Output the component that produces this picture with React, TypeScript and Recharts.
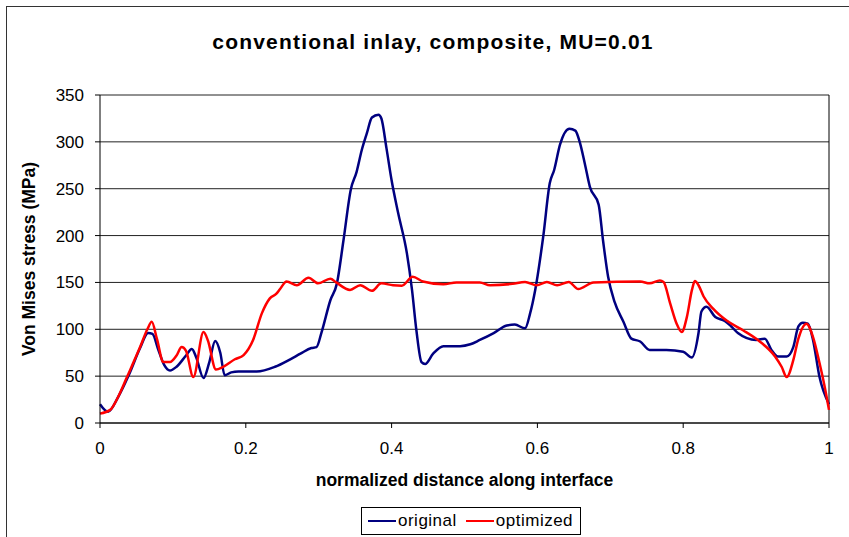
import React from "react";
import { LineChart, Line, XAxis, YAxis, CartesianGrid, ReferenceLine } from "recharts";

const title = "conventional inlay, composite, MU=0.01";
const xLabel = "normalized distance along interface";
const yLabel = "Von Mises stress (MPa)";
const xTicks = [0, 0.2, 0.4, 0.6, 0.8, 1];
const yTicks = [0, 50, 100, 150, 200, 250, 300, 350];

const originalX = [
  0, 0.011, 0.025, 0.04, 0.055, 0.066, 0.072, 0.08, 0.088, 0.096, 0.105, 0.118, 0.126, 0.132,
  0.142, 0.15, 0.158, 0.165, 0.171, 0.18, 0.19, 0.215, 0.24, 0.261, 0.275, 0.29, 0.297, 0.304,
  0.316, 0.325, 0.334, 0.344, 0.352, 0.359, 0.366, 0.373, 0.382, 0.386, 0.393, 0.4, 0.409,
  0.421, 0.428, 0.434, 0.441, 0.446, 0.457, 0.471, 0.494, 0.508, 0.521, 0.54, 0.558, 0.569,
  0.583, 0.59, 0.597, 0.608, 0.617, 0.623, 0.631, 0.644, 0.652, 0.658, 0.665, 0.672, 0.684,
  0.69, 0.697, 0.706, 0.718, 0.729, 0.741, 0.754, 0.777, 0.8, 0.812, 0.821, 0.825, 0.832,
  0.844, 0.857, 0.866, 0.875, 0.9, 0.912, 0.921, 0.93, 0.942, 0.951, 0.958, 0.964, 0.971,
  0.978, 0.987, 1.0,
];
const originalY = [
  20, 12, 28, 52, 80, 96, 95, 78, 62, 56, 60, 72, 79, 70,
  48, 65, 87.5, 75, 51, 54, 55, 55, 60, 68, 74, 80, 81, 97,
  131, 149, 195, 249, 268, 291, 309, 326, 329, 325, 293, 259, 224,
  181, 142, 99, 65, 63, 74, 82, 82, 84, 88.6, 96, 104, 105,
  101, 117, 142, 199, 256, 270, 297, 314, 312, 300, 277, 252, 233,
  195, 156, 129, 108, 90, 87, 78, 78, 76, 70, 96, 119, 124,
  113, 109, 103, 96, 88.6, 90, 78, 71, 71, 81, 103, 107, 106,
  89, 49, 20,
];

const optimizedX = [
  0, 0.014, 0.025, 0.037, 0.055, 0.065, 0.071, 0.078, 0.087, 0.096, 0.105, 0.112, 0.118,
  0.128, 0.142, 0.148, 0.159, 0.169, 0.185, 0.197, 0.21, 0.222, 0.233, 0.242, 0.247, 0.256,
  0.27, 0.286, 0.299, 0.316, 0.324, 0.343, 0.357, 0.373, 0.386, 0.402, 0.414, 0.429, 0.443,
  0.471, 0.489, 0.521, 0.535, 0.566, 0.583, 0.599, 0.613, 0.627, 0.643, 0.656, 0.677, 0.741,
  0.754, 0.768, 0.773, 0.782, 0.791, 0.798, 0.805, 0.812, 0.816, 0.821, 0.828, 0.841, 0.86,
  0.882, 0.905, 0.926, 0.935, 0.942, 0.951, 0.958, 0.969, 0.978, 0.987, 0.994, 1.0,
];
const optimizedY = [
  10, 14, 28, 49, 81, 100, 108, 90, 65, 65, 72, 81, 77,
  49, 97, 88, 57, 60, 68, 72.5, 88.6, 117, 133, 138, 143, 151,
  147, 155, 149, 154, 150, 142, 147, 141, 149, 147, 146.5, 156, 151,
  148, 150, 150, 147, 148.5, 150.5, 147, 150.5, 147, 150.5, 143, 150, 151,
  149, 152, 150.5, 128, 106, 97, 113, 142, 151.5, 147, 135, 122, 109,
  99, 87, 71, 60, 49, 67, 90, 106, 92, 64, 39, 14,
];

const originalData = originalX.map((x, i) => ({ x, y: originalY[i] }));
const optimizedData = optimizedX.map((x, i) => ({ x, y: optimizedY[i] }));

const FONT = "'Liberation Sans', Arial, sans-serif";

const YLabel = (props: any) => {
  const vb = props.viewBox || {};
  const cx = vb.x - 5;
  const cy = vb.y + vb.height / 2;
  return (
    <text x={cx} y={cy} transform={`rotate(-90 ${cx} ${cy})`} textAnchor="middle"
      fontFamily={FONT} fontWeight="bold" fontSize={17.5} fill="#000">
      {yLabel}
    </text>
  );
};

const XLabel = (props: any) => {
  const vb = props.viewBox || {};
  const cx = vb.x + vb.width / 2;
  return (
    <text x={cx} y={vb.y + 63} textAnchor="middle"
      fontFamily={FONT} fontWeight="bold" fontSize={17.5} fill="#000">
      {xLabel}
    </text>
  );
};

export default function App() {
  return (
    <div style={{ position: "absolute", left: 0, top: 0, width: 849, height: 537, background: "#fff", overflow: "hidden", fontFamily: FONT }}>
      <div style={{ position: "absolute", left: 6, top: 6, width: 900, height: 600, borderLeft: "1px solid #333", borderTop: "1px solid #333" }} />
      <div style={{ position: "absolute", left: 0, width: 866, top: 30, textAlign: "center", fontWeight: "bold", fontSize: 21, letterSpacing: 1.2, lineHeight: "24px", color: "#000" }}>
        {title}
      </div>
      <div style={{ position: "absolute", left: 0, top: 0 }}>
        <LineChart width={849} height={537} data={originalData}
          margin={{ top: 95, right: 20, left: 40, bottom: 84 }}>
          <CartesianGrid horizontal vertical={false} stroke="#222" strokeWidth={1} />
          <XAxis dataKey="x" type="number" domain={[0, 1]} ticks={xTicks} interval={0}
            axisLine={{ stroke: "#000" }} tickLine={{ stroke: "#000" }} tickSize={5} tickMargin={14}
            height={30} tick={{ fill: "#000", fontSize: 17, fontFamily: FONT }}
            label={<XLabel />} />
          <YAxis type="number" domain={[0, 350]} ticks={yTicks} interval={0} width={60}
            axisLine={{ stroke: "#000" }} tickLine={{ stroke: "#000" }} tickSize={5} tickMargin={11}
            tick={{ fill: "#000", fontSize: 17, fontFamily: FONT }}
            label={<YLabel />} />
          <ReferenceLine x={1} stroke="#000" />
          <Line data={originalData} dataKey="y" type="monotone" stroke="#000080" strokeWidth={2.5}
            dot={false} isAnimationActive={false} name="original" />
          <Line data={optimizedData} dataKey="y" type="monotone" stroke="#ff0000" strokeWidth={2.5}
            dot={false} isAnimationActive={false} name="optimized" />
        </LineChart>
      </div>
      <div style={{ position: "absolute", left: 361, top: 507, width: 220, height: 28, border: "1px solid #000", boxSizing: "border-box", display: "flex", alignItems: "center", fontSize: 17, color: "#000", background: "#fff" }}>
        <span style={{ display: "inline-block", width: 28, height: 2.5, background: "#000080", marginLeft: 6 }} />
        <span style={{ marginLeft: 2, letterSpacing: 0.5 }}>original</span>
        <span style={{ display: "inline-block", width: 28, height: 2.5, background: "#ff0000", marginLeft: 9 }} />
        <span style={{ marginLeft: 2, letterSpacing: 0.5 }}>optimized</span>
      </div>
    </div>
  );
}
